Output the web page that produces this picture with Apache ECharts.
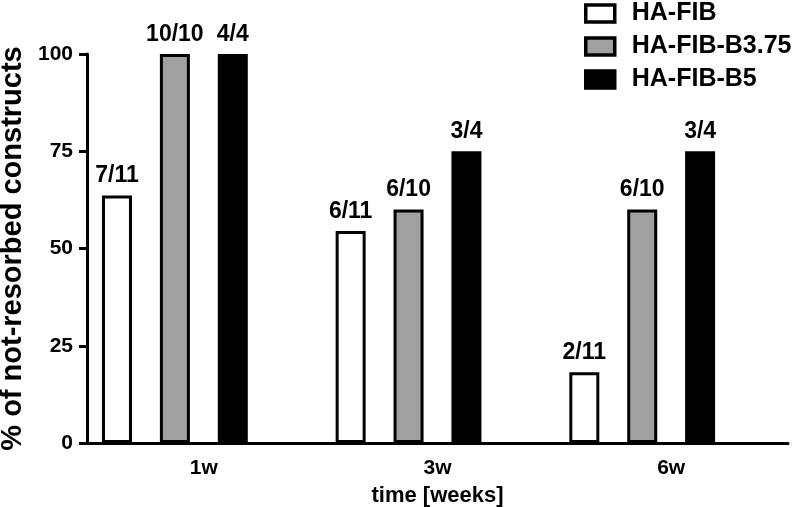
<!DOCTYPE html>
<html>
<head>
<meta charset="utf-8">
<script src="https://cdn.jsdelivr.net/npm/echarts@6/dist/echarts.min.js"></script>
<style>
html,body{margin:0;padding:0;background:#fff;}
#c{width:792px;height:507px;}
</style>
</head>
<body>
<div id="c"></div>
<script>
const categories = ['1w', '3w', '6w'];
const seriesNames = ['HA-FIB', 'HA-FIB-B3.75', 'HA-FIB-B5'];
const haFib = [63.6, 54.5, 18.2];
const haFibB375 = [100, 60, 60];
const haFibB5 = [100, 75, 75];
const haFibLabels = ['7/11', '6/11', '2/11'];
const haFibB375Labels = ['10/10', '6/10', '6/10'];
const haFibB5Labels = ['4/4', '3/4', '3/4'];
const yTicks = [0, 25, 50, 75, 100];

const FONT = '"Liberation Sans", Arial, sans-serif';
const fills = ['#ffffff', '#a0a0a0', '#000000'];
const values = [haFib, haFibB375, haFibB5];
const labels = [haFibLabels, haFibB375Labels, haFibB5Labels];

const series = seriesNames.map((name, i) => ({
  name: name,
  type: 'bar',
  barWidth: 30,
  barGap: '93%',
  data: values[i],
  itemStyle: { color: fills[i], borderColor: '#000', borderWidth: 3 },
  label: {
    show: true, position: 'top', distance: 8,
    color: '#000', fontFamily: FONT, fontWeight: 'bold', fontSize: 23,
    formatter: p => labels[i][p.dataIndex]
  }
}));
// empty 4th slot in each group (as in the original layout)
series.push({ name: '', type: 'bar', barWidth: 30, barGap: '93%', data: categories.map(() => null) });

const chart = echarts.init(document.getElementById('c'), null, { renderer: 'canvas' });
chart.setOption({
  animation: false,
  backgroundColor: '#fff',
  grid: { left: 87, right: 4, top: 54, bottom: 64, containLabel: false, outerBoundsMode: 'none' },
  legend: {
    data: seriesNames.map((n, i) => ({ name: n, itemStyle: { color: fills[i], borderColor: '#000', borderWidth: 3.5 } })),
    orient: 'vertical',
    left: 584, top: 1, padding: 0,
    itemWidth: 29, itemHeight: 17, itemGap: 8,
    icon: 'rect',
    textStyle: { fontFamily: FONT, fontWeight: 'bold', fontSize: 25, color: '#000', padding: [0, 0, 0, 12] }
  },
  xAxis: {
    type: 'category',
    data: categories,
    name: 'time [weeks]',
    nameLocation: 'middle',
    nameGap: 42,
    nameTextStyle: { fontFamily: FONT, fontWeight: 'bold', fontSize: 22, color: '#000' },
    axisLine: { lineStyle: { color: '#000', width: 3 } },
    axisTick: { alignWithLabel: true, length: 8, lineStyle: { color: '#000', width: 3 } },
    axisLabel: { fontFamily: FONT, fontWeight: 'bold', fontSize: 21, color: '#000', margin: 15 }
  },
  yAxis: {
    type: 'value',
    min: 0, max: 100, interval: 25,
    name: '% of not-resorbed constructs',
    nameLocation: 'middle',
    nameGap: 60,
    nameTextStyle: { fontFamily: FONT, fontWeight: 'bold', fontSize: 29, color: '#000' },
    axisLine: { show: true, lineStyle: { color: '#000', width: 3 } },
    axisTick: { show: true, length: 8, lineStyle: { color: '#000', width: 3 } },
    splitLine: { show: false },
    axisLabel: {
      fontFamily: FONT, fontWeight: 'bold', fontSize: 21, color: '#000', margin: 14,
      formatter: v => yTicks.includes(v) ? String(v) : ''
    }
  },
  series: series
});
</script>
</body>
</html>
